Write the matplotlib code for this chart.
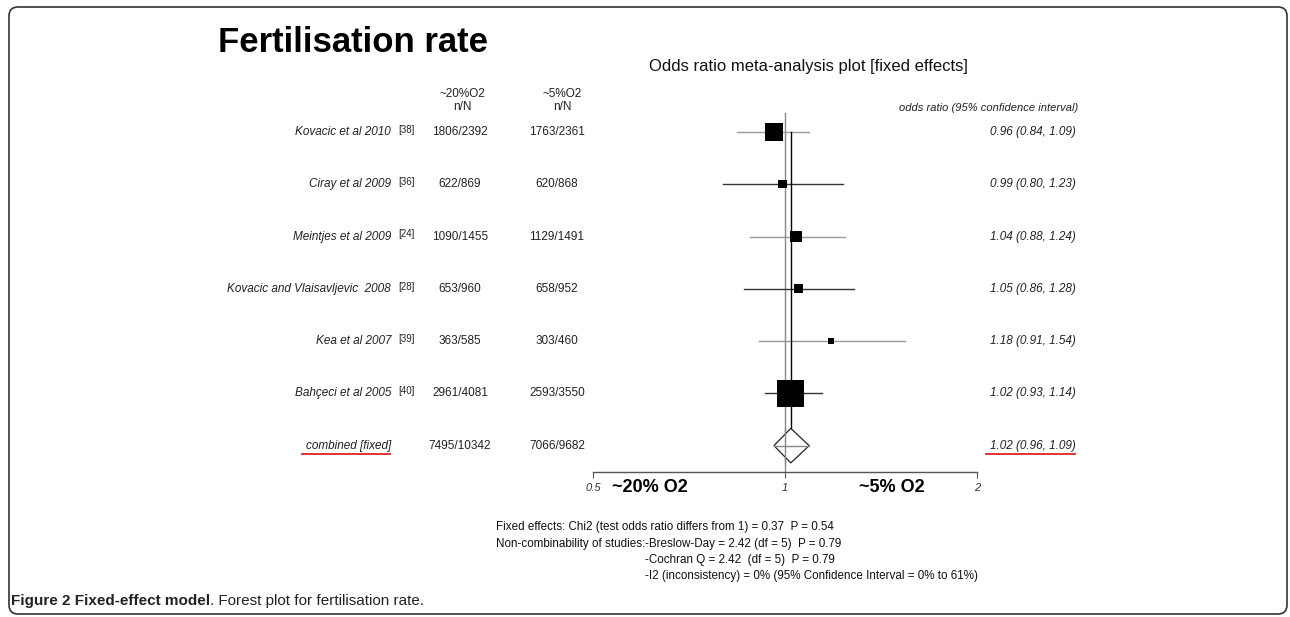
import numpy as np
import matplotlib
matplotlib.use('Agg')
import matplotlib.pyplot as plt
import matplotlib.patches as mpatches
import matplotlib.transforms as mtransforms

plt.rcParams['font.family'] = ['Liberation Sans', 'DejaVu Sans']

# Study data.
studies = ['Kovacic et al 2010', 'Ciray et al 2009', 'Meintjes et al 2009',
           'Kovacic and Vlaisavljevic  2008', 'Kea et al 2007', 'Bahçeci et al 2005']
refs = ['[38]', '[36]', '[24]', '[28]', '[39]', '[40]']
high_o2 = ['1806/2392', '622/869', '1090/1455', '653/960', '363/585', '2961/4081']
low_o2 = ['1763/2361', '620/868', '1129/1491', '658/952', '303/460', '2593/3550']
odds = [0.96, 0.99, 1.04, 1.05, 1.18, 1.02]
ci_lo = [0.84, 0.80, 0.88, 0.86, 0.91, 0.93]
ci_hi = [1.09, 1.23, 1.24, 1.28, 1.54, 1.14]
box_weight = [21, 9.5, 13.5, 10.5, 6.5, 32]  # relative box size

combined_label = 'combined [fixed]'
combined_high = '7495/10342'
combined_low = '7066/9682'
combined_or = 1.02
combined_lo = 0.96
combined_hi = 1.09

x_ticks = [0.5, 1, 2]
x_tick_labels = ['0.5', '1', '2']

stats_first = 'Fixed effects: Chi2 (test odds ratio differs from 1) = 0.37  P = 0.54'
stats_head = 'Non-combinability of studies:'
stats_items = ['-Breslow-Day = 2.42 (df = 5)  P = 0.79',
               '-Cochran Q = 2.42  (df = 5)  P = 0.79',
               '-I2 (inconsistency) = 0% (95% Confidence Interval = 0% to 61%)']

W, H = 1290, 617
fig = plt.figure(figsize=(W / 100, H / 100), dpi=100)
fig.patch.set_facecolor('white')


def fx(px):
    return px / W


def fy(py):
    return 1 - py / H


# Forest plot axes: x from 0.5 (px 593) to 2 (px 977), rows spaced ~52 px.
ax = fig.add_axes([fx(593.3), fy(472.3), fx(977.3) - fx(593.3), fy(113) - fy(472.3)])
ax.set_xscale('log')
ax.set_xlim(0.5, 2)
ax.set_ylim(6.51, -0.364)
for s in ['top', 'left', 'right']:
    ax.spines[s].set_visible(False)
ax.spines['bottom'].set_color('#555555')
ax.spines['bottom'].set_linewidth(1)
ax.set_yticks([])
ax.xaxis.set_minor_locator(matplotlib.ticker.NullLocator())
ax.set_xticks(x_ticks)
ax.set_xticklabels(x_tick_labels, fontsize=8, style='italic', color='#333333')
ax.tick_params(axis='x', length=4.5, width=0.8, color='#555555', pad=3)
ax.patch.set_alpha(0)

# Line of no effect.
ax.axvline(1, color='#888888', lw=1, zorder=1)

rows = np.arange(len(studies))
ci_colors = ['#999999', '#333333'] * 3
for i in rows:
    ax.plot([ci_lo[i], ci_hi[i]], [i, i], color=ci_colors[i], lw=1, zorder=2)
side_px = np.array(box_weight) * 0.85
ax.scatter(odds, rows, s=(side_px * 0.72) ** 2, marker='s', color='black',
           edgecolors='none', zorder=4)

# Combined estimate: diamond and vertical line.
crow = len(studies)
ax.plot([combined_or, combined_or], [0, crow - 0.33], color='black', lw=1, zorder=3)
diamond = mpatches.Polygon([[combined_lo, crow], [combined_or, crow - 0.33],
                            [combined_hi, crow], [combined_or, crow + 0.33]],
                           closed=True, facecolor='white', edgecolor='#222222', lw=0.9, zorder=3)
ax.add_patch(diamond)
ax.plot([combined_lo, combined_hi], [crow, crow], color='#888888', lw=1, zorder=4)
ax.plot([1, 1], [crow - 0.33, crow + 0.33], color='#888888', lw=1, zorder=4)

trans = mtransforms.blended_transform_factory(fig.transFigure, ax.transData)

for i in rows:
    ax.text(fx(391), i, studies[i], transform=trans, ha='right', va='center',
            fontsize=8.5, style='italic', color='#222222')
    ax.text(fx(398), i - 0.04, refs[i], transform=trans, ha='left', va='center',
            fontsize=7, color='#222222')
    ax.text(fx(460), i, high_o2[i], transform=trans, ha='center', va='center',
            fontsize=8.5, color='#222222')
    ax.text(fx(557), i, low_o2[i], transform=trans, ha='center', va='center',
            fontsize=8.5, color='#222222')
    ax.text(fx(1076), i, '{:.2f} ({:.2f}, {:.2f})'.format(odds[i], ci_lo[i], ci_hi[i]),
            transform=trans, ha='right', va='center', fontsize=8.5, style='italic',
            color='#222222')

ax.text(fx(391), crow, combined_label, transform=trans, ha='right', va='center',
        fontsize=8.5, style='italic', color='#222222')
ax.text(fx(460), crow, combined_high, transform=trans, ha='center', va='center',
        fontsize=8.5, color='#222222')
ax.text(fx(557), crow, combined_low, transform=trans, ha='center', va='center',
        fontsize=8.5, color='#222222')
ax.text(fx(1076), crow, '{:.2f} ({:.2f}, {:.2f})'.format(combined_or, combined_lo, combined_hi),
        transform=trans, ha='right', va='center', fontsize=8.5, style='italic', color='#222222')

# Red spell-check underlines.
fig.add_artist(plt.Line2D([fx(302), fx(390)], [fy(453.5), fy(453.5)], color='#dd2222', lw=1.3))
fig.add_artist(plt.Line2D([fx(986), fx(1075)], [fy(453.5), fy(453.5)], color='#dd2222', lw=1.3))

# Headers.
fig.text(fx(218), fy(43), 'Fertilisation rate', fontsize=25, weight='bold', ha='left', va='center')
fig.text(fx(808), fy(66), 'Odds ratio meta-analysis plot [fixed effects]', fontsize=12,
         ha='center', va='center', color='#111111')
fig.text(fx(462), fy(94), '~20%O2', fontsize=8.5, ha='center', va='center', color='#222222')
fig.text(fx(462), fy(107), 'n/N', fontsize=8.5, ha='center', va='center', color='#222222')
fig.text(fx(562), fy(94), '~5%O2', fontsize=8.5, ha='center', va='center', color='#222222')
fig.text(fx(562), fy(107), 'n/N', fontsize=8.5, ha='center', va='center', color='#222222')
fig.text(fx(1078), fy(108), 'odds ratio (95% confidence interval)', fontsize=8, style='italic',
         ha='right', va='center', color='#222222')

# Direction labels under the axis.
fig.text(fx(650), fy(487), '~20% O2', fontsize=13, weight='bold', ha='center', va='center')
fig.text(fx(892), fy(487), '~5% O2', fontsize=13, weight='bold', ha='center', va='center')

# Heterogeneity statistics.
stat_fs = 8.4
fig.text(fx(496), fy(527), stats_first, fontsize=stat_fs, ha='left', va='center', color='#111111')
head = fig.text(fx(496), fy(543.5), stats_head, fontsize=stat_fs, ha='left', va='center',
                color='#111111')
fig.canvas.draw()
item_x = head.get_window_extent().x1 / W
for k, item in enumerate(stats_items):
    fig.text(item_x, fy(543.5 + 16.5 * k), item, fontsize=stat_fs, ha='left', va='center',
             color='#111111')

# Caption.
cap1 = fig.text(fx(11), fy(601), 'Figure 2 Fixed-effect model', fontsize=11, weight='bold',
                ha='left', va='center', color='#222222')
fig.canvas.draw()
bb = cap1.get_window_extent()
fig.text(bb.x1 / W, fy(601), '. Forest plot for fertilisation rate.', fontsize=11,
         ha='left', va='center', color='#222222')

# Rounded outer frame (display pixels).
frame = mpatches.FancyBboxPatch((9, 3), 1278, 607, boxstyle='round,pad=0,rounding_size=9',
                                transform=None, facecolor='none', edgecolor='#333333', lw=1.2)
fig.patches.append(frame)

fig.savefig('out.png', dpi=100)
